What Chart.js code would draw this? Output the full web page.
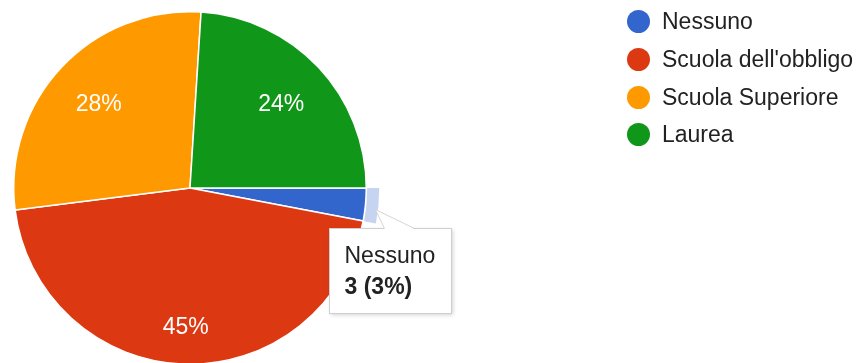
<!DOCTYPE html>
<html lang="it">
<head>
<meta charset="utf-8">
<title>Titolo di studio</title>
<script src="https://cdn.jsdelivr.net/npm/chart.js@4.4.1/dist/chart.umd.min.js"></script>
<style>
  html, body { margin: 0; padding: 0; background: #fff; }
  body {
    width: 863px; height: 363px; overflow: hidden; position: relative;
    font-family: Arial, "Liberation Sans", sans-serif;
  }
  #wrap { position: absolute; left: 0; top: 0; width: 863px; height: 380px; }
  #legend {
    position: absolute; left: 627px; top: 3px;
    margin: 0; padding: 0; list-style: none;
  }
  #legend li {
    height: 37.7px; display: flex; align-items: center;
    font-size: 23px; color: #222; white-space: nowrap;
  }
  #legend .dot { width: 23px; height: 23px; border-radius: 50%; margin-right: 12px; flex: none; }
</style>
</head>
<body>
<div id="wrap"><canvas id="pie" width="863" height="380"></canvas></div>
<ul id="legend"></ul>

<script>
const labels = ["Nessuno", "Scuola dell'obbligo", "Scuola Superiore", "Laurea"];
const counts = [3, 45, 28, 24];
const colors = ["#3366cc", "#dc3912", "#ff9900", "#109618"];
const hoverIndex = 0;   // slice shown highlighted, with its tooltip

const total = counts.reduce((a, b) => a + b, 0);
const pct = (v) => Math.round(v / total * 100) + "%";

/* ── percentage text inside the slices ── */
const sliceText = {
  id: "sliceText",
  afterDatasetsDraw(chart) {
    const ctx = chart.ctx;
    const arcs = chart.getDatasetMeta(0).data;
    ctx.save();
    ctx.font = "23px Arial, 'Liberation Sans', sans-serif";
    ctx.fillStyle = "#fff";
    ctx.textAlign = "center";
    ctx.textBaseline = "alphabetic";
    arcs.forEach((arc, i) => {
      if (counts[i] / total < 0.05) return;
      const { x, y, startAngle, endAngle, outerRadius } = arc.getProps(
        ["x", "y", "startAngle", "endAngle", "outerRadius"], true);
      const mid = (startAngle + endAngle) / 2;
      const text = pct(counts[i]);
      const w = ctx.measureText(text).width, h = 17;
      const c = Math.abs(Math.cos(mid)), s = Math.abs(Math.sin(mid));
      // push the text out until its far corner sits at ~84% of the radius
      const T = outerRadius * 0.84;
      const b = c * w / 2 + s * h / 2;
      const d = -b + Math.sqrt(b * b - ((w * w + h * h) / 4 - T * T));
      const cx = x + d * Math.cos(mid), cy = y + d * Math.sin(mid);
      ctx.fillText(text, cx, cy + h / 2);
    });
    ctx.restore();
  },
};

/* ── hover ring + tooltip for one slice ── */
const hoverCallout = {
  id: "hoverCallout",
  afterDraw(chart) {
    const ctx = chart.ctx;
    const arc = chart.getDatasetMeta(0).data[hoverIndex];
    const { x, y, startAngle, endAngle, outerRadius: R } = arc.getProps(
      ["x", "y", "startAngle", "endAngle", "outerRadius"], true);

    ctx.save();
    ctx.beginPath();
    ctx.arc(x, y, R + 13, startAngle, endAngle);
    ctx.arc(x, y, R + 1, endAngle, startAngle, true);
    ctx.closePath();
    ctx.fillStyle = "rgba(51,102,204,0.28)";
    ctx.fill();

    const mid = (startAngle + endAngle) / 2;
    const px = x + R * Math.cos(mid), py = y + R * Math.sin(mid);
    const bx = Math.round(px - 36) + 0.5, by = Math.round(py + 23) + 0.5;
    const bw = 122, bh = 85;

    // box
    ctx.shadowColor = "rgba(0,0,0,0.18)";
    ctx.shadowBlur = 4;
    ctx.shadowOffsetX = 1;
    ctx.shadowOffsetY = 1;
    ctx.fillStyle = "#fff";
    ctx.fillRect(bx, by, bw, bh);
    ctx.shadowColor = "transparent";
    ctx.strokeStyle = "#cfcfcf";
    ctx.lineWidth = 1;
    ctx.strokeRect(bx, by, bw, bh);

    // callout wedge
    const ax = px + 10, ay = py + 5;
    ctx.beginPath();
    ctx.moveTo(bx + 55, by + 0.5);
    ctx.lineTo(ax, ay);
    ctx.lineTo(bx + 85, by + 0.5);
    ctx.closePath();
    ctx.fillStyle = "#fff";
    ctx.fill();
    ctx.beginPath();
    ctx.moveTo(bx + 55, by);
    ctx.lineTo(ax, ay);
    ctx.lineTo(bx + 85, by);
    ctx.strokeStyle = "#d4d4d4";
    ctx.stroke();

    // text
    ctx.fillStyle = "#222";
    ctx.textAlign = "left";
    ctx.textBaseline = "alphabetic";
    ctx.font = "23px Arial, 'Liberation Sans', sans-serif";
    ctx.fillText(labels[hoverIndex], bx + 15, by + 34);
    ctx.font = "bold 23px Arial, 'Liberation Sans', sans-serif";
    ctx.fillText(counts[hoverIndex] + " (" + pct(counts[hoverIndex]) + ")", bx + 15, by + 65);
    ctx.restore();
  },
};

const chart = new Chart(document.getElementById("pie"), {
  type: "pie",
  data: {
    labels,
    datasets: [{
      data: counts,
      backgroundColor: colors,
      borderColor: "#fff",
      borderWidth: 1.5,
    }],
  },
  options: {
    responsive: false,
    animation: false,
    events: [],
    rotation: 90,
    layout: { padding: { left: 13, top: 11, right: 496, bottom: 15 } },
    plugins: {
      legend: { display: false },
      tooltip: { enabled: false },
    },
  },
  plugins: [sliceText, hoverCallout],
});

/* ── legend ── */
document.getElementById("legend").innerHTML = labels
  .map((l, i) => `<li><span class="dot" style="background:${colors[i]}"></span>${l}</li>`)
  .join("");
</script>
</body>
</html>
